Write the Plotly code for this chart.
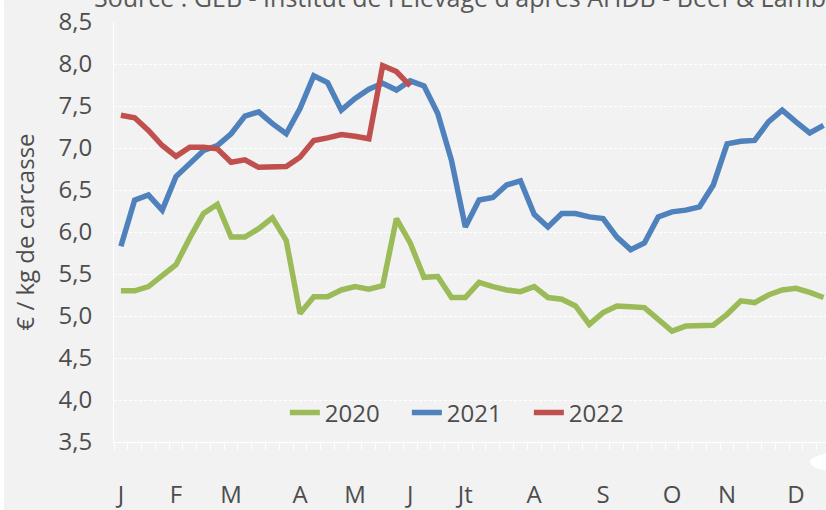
import plotly.graph_objects as go

# weekly carcass prices, € / kg
weeks = list(range(52))

prix_2020 = [5.30, 5.30, 5.35, 5.47, 5.61, 5.93, 6.22, 6.33, 5.94, 5.94,
             6.04, 6.17, 5.90, 5.03, 5.23, 5.23, 5.31, 5.35, 5.32, 5.36,
             6.16, 5.87, 5.46, 5.47, 5.22, 5.22, 5.40, 5.35, 5.31, 5.29,
             5.35, 5.22, 5.20, 5.12, 4.90, 5.04, 5.12, 5.11, 5.10, 4.96,
             4.82, 4.88, 4.88, 4.89, 5.02, 5.18, 5.16, 5.25, 5.31, 5.33,
             5.28, 5.22]

prix_2021 = [5.83, 6.38, 6.44, 6.26, 6.66, 6.82, 6.97, 7.03, 7.17, 7.38,
             7.43, 7.29, 7.17, 7.47, 7.86, 7.78, 7.45, 7.59, 7.70, 7.77,
             7.69, 7.80, 7.74, 7.41, 6.85, 6.06, 6.38, 6.41, 6.56, 6.61,
             6.21, 6.06, 6.22, 6.22, 6.18, 6.16, 5.94, 5.79, 5.87, 6.18,
             6.24, 6.26, 6.30, 6.56, 7.05, 7.08, 7.09, 7.31, 7.45, 7.31,
             7.18, 7.27]

prix_2022 = [7.39, 7.36, 7.21, 7.03, 6.90, 7.01, 7.01, 6.99, 6.83, 6.86,
             6.77, 6.78, 6.78, 6.89, 7.09, 7.12, 7.16, 7.14, 7.11, 7.98,
             7.91, 7.74]

mois_pos = [0, 4, 8, 13, 17, 21, 25, 30, 35, 40, 44, 49]
mois_lbl = ["J", "F", "M", "A", "M", "J", "Jt", "A", "S", "O", "N", "D"]

SERIES = [
    ("2020", prix_2020, "#9BBB59"),
    ("2021", prix_2021, "#4F81BD"),
    ("2022", prix_2022, "#C0504D"),
]

FONT = "Open Sans"
GREY = "#4D4D4D"
BG = "#F2F2F2"

fig = go.Figure()
for name, vals, color in SERIES:
    fig.add_trace(go.Scatter(
        x=weeks[:len(vals)], y=vals, name=name, mode="lines",
        line=dict(color=color, width=5.5),
    ))

fig.update_layout(
    width=826, height=510,
    margin=dict(l=114, r=0, t=22, b=68),
    paper_bgcolor=BG, plot_bgcolor=BG,
    separators=", ",
    font=dict(family=FONT, size=24, color=GREY),
    showlegend=True,
    legend=dict(
        orientation="h", x=0.497, xanchor="center", y=0.069, yanchor="middle",
        entrywidth=77, bgcolor="rgba(0,0,0,0)", font=dict(size=24, color=GREY),
    ),
)

fig.update_xaxes(
    range=[-0.5, 51.18],
    tickvals=mois_pos, ticktext=mois_lbl,
    ticks="", ticklabelstandoff=31,
    showgrid=False, zeroline=False,
    showline=True, linecolor="white", linewidth=1,
    minor=dict(tick0=-0.5, dtick=1, ticks="outside", ticklen=7,
               tickcolor="white", tickwidth=1, showgrid=False),
    automargin=False,
)

fig.update_yaxes(
    range=[3.5, 8.5], dtick=0.5, tickformat=".1f",
    ticks="", ticklabelstandoff=16,
    showgrid=True, gridcolor="white", gridwidth=1, griddash="3px,2px",
    zeroline=False,
    showline=True, linecolor="white", linewidth=1,
    title=dict(text="€ / kg de carcasse", standoff=17,
               font=dict(size=24, color=GREY)),
    automargin=False,
)

# source line, partly cut by the top of the frame
fig.add_annotation(
    text="Source : GEB - Institut de l'Elevage d'après AHDB - Beef & Lamb",
    xref="paper", yref="paper", x=-0.0309, y=1.0143,
    xanchor="left", yanchor="bottom", showarrow=False,
    font=dict(size=25, color="#595959"),
)

# white edge on the left and a white blob at the bottom right
fig.add_shape(type="rect", xref="paper", yref="paper",
              x0=-0.1601, x1=-0.1545, y0=-0.162, y1=1.052,
              fillcolor="white", line_width=0, layer="above")
fig.add_shape(type="circle", xref="paper", yref="paper",
              x0=0.9775, x1=1.0955, y0=-0.0738, y1=-0.0214,
              fillcolor="white", line_width=0, layer="above")

fig.write_html("out.html", config={"displayModeBar": False},
               post_script="document.body.style.margin='0';")
